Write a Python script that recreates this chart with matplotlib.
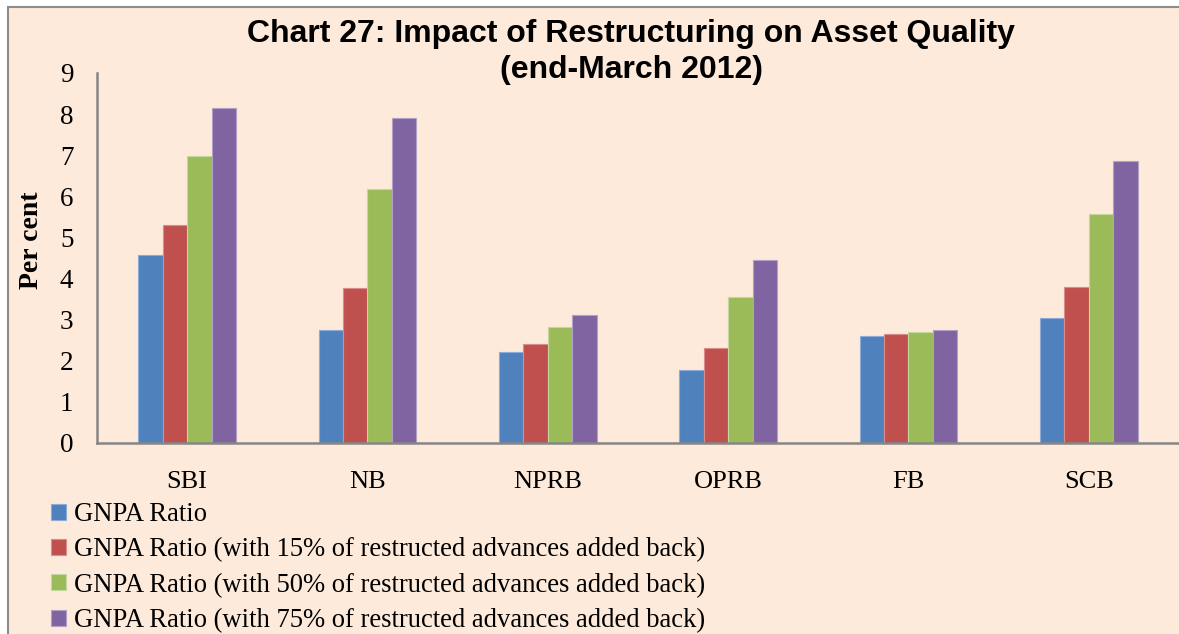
import matplotlib
matplotlib.use("Agg")
import matplotlib.pyplot as plt
from matplotlib.patches import Rectangle
import numpy as np

categories = ["SBI", "NB", "NPRB", "OPRB", "FB", "SCB"]
series_names = [
    "GNPA Ratio",
    "GNPA Ratio (with 15% of restructed advances added back)",
    "GNPA Ratio (with 50% of restructed advances added back)",
    "GNPA Ratio (with 75% of restructed advances added back)",
]
gnpa = [4.57, 2.75, 2.21, 1.78, 2.61, 3.03]
gnpa_15 = [5.30, 3.76, 2.41, 2.30, 2.64, 3.80]
gnpa_50 = [6.97, 6.17, 2.82, 3.55, 2.71, 5.57]
gnpa_75 = [8.16, 7.90, 3.11, 4.44, 2.76, 6.86]
y_ticks = [0, 1, 2, 3, 4, 5, 6, 7, 8, 9]

colors = ["#4F81BD", "#C0504D", "#9BBB59", "#8064A2"]
edges = ["#8EAAD6", "#D98C8A", "#C4D79E", "#B2A1C7"]
bg = "#FDEADA"

W, H = 1179, 634
fig = plt.figure(figsize=(W / 100, H / 100), dpi=100)
fig.patch.set_facecolor("white")
# chart area border/background
fig.patches.append(Rectangle((8 / W, -0.01), 1.02, 1 - 7 / H + 0.01,
                             transform=fig.transFigure, facecolor=bg,
                             edgecolor="#8C8C8C", linewidth=1.5, zorder=-5))

ax = fig.add_axes([97 / W, 1 - 443 / H, 1 - 97 / W, (443 - 73) / H])
ax.set_zorder(2)
ax.patch.set_alpha(0)

x = np.arange(len(categories))
bw = 0.135
data = [gnpa, gnpa_15, gnpa_50, gnpa_75]
for i, (vals, c, e, name) in enumerate(zip(data, colors, edges, series_names)):
    ax.bar(x + (i - 1.5) * bw, vals, width=bw, color=c, edgecolor=e,
           linewidth=0.8, label=name, zorder=2)

ax.set_xlim(-0.5, len(categories) - 0.5)
ax.set_ylim(0, 9)
ax.set_yticks(y_ticks)
ax.set_xticks(x)
ax.set_xticklabels(categories, fontfamily="Liberation Serif", fontsize=19)
ax.set_yticklabels([str(t) for t in y_ticks], fontfamily="Liberation Serif", fontsize=19.5)
ax.tick_params(axis="both", length=0)
ax.tick_params(axis="y", pad=17)
ax.tick_params(axis="x", pad=20)
for s in ["top", "right"]:
    ax.spines[s].set_visible(False)
for s in ["left", "bottom"]:
    ax.spines[s].set_color("#868686")
    ax.spines[s].set_linewidth(1.8)

fig.text(31 / W, 1 - 240 / H, "Per cent", rotation=90, ha="center", va="center",
         fontfamily="Liberation Serif", fontweight="bold", fontsize=20)

fig.text(631 / W, 1 - 34 / H, "Chart 27: Impact of Restructuring on Asset Quality",
         ha="center", va="center", fontfamily="Liberation Sans", fontweight="bold", fontsize=23)
fig.text(631 / W, 1 - 70 / H, "(end-March 2012)",
         ha="center", va="center", fontfamily="Liberation Sans", fontweight="bold", fontsize=23)

handles, labels = ax.get_legend_handles_labels()
leg = fig.legend(handles, labels, loc="upper left", bbox_to_anchor=(51 / W, 1 - 502 / H),
                 frameon=False, prop={"family": "Liberation Serif", "size": 19.2},
                 handlelength=0.55, handleheight=0.55, handletextpad=0.3,
                 labelspacing=0.39, borderaxespad=0, borderpad=0)

fig.savefig("out.png", dpi=100, facecolor=fig.get_facecolor())
